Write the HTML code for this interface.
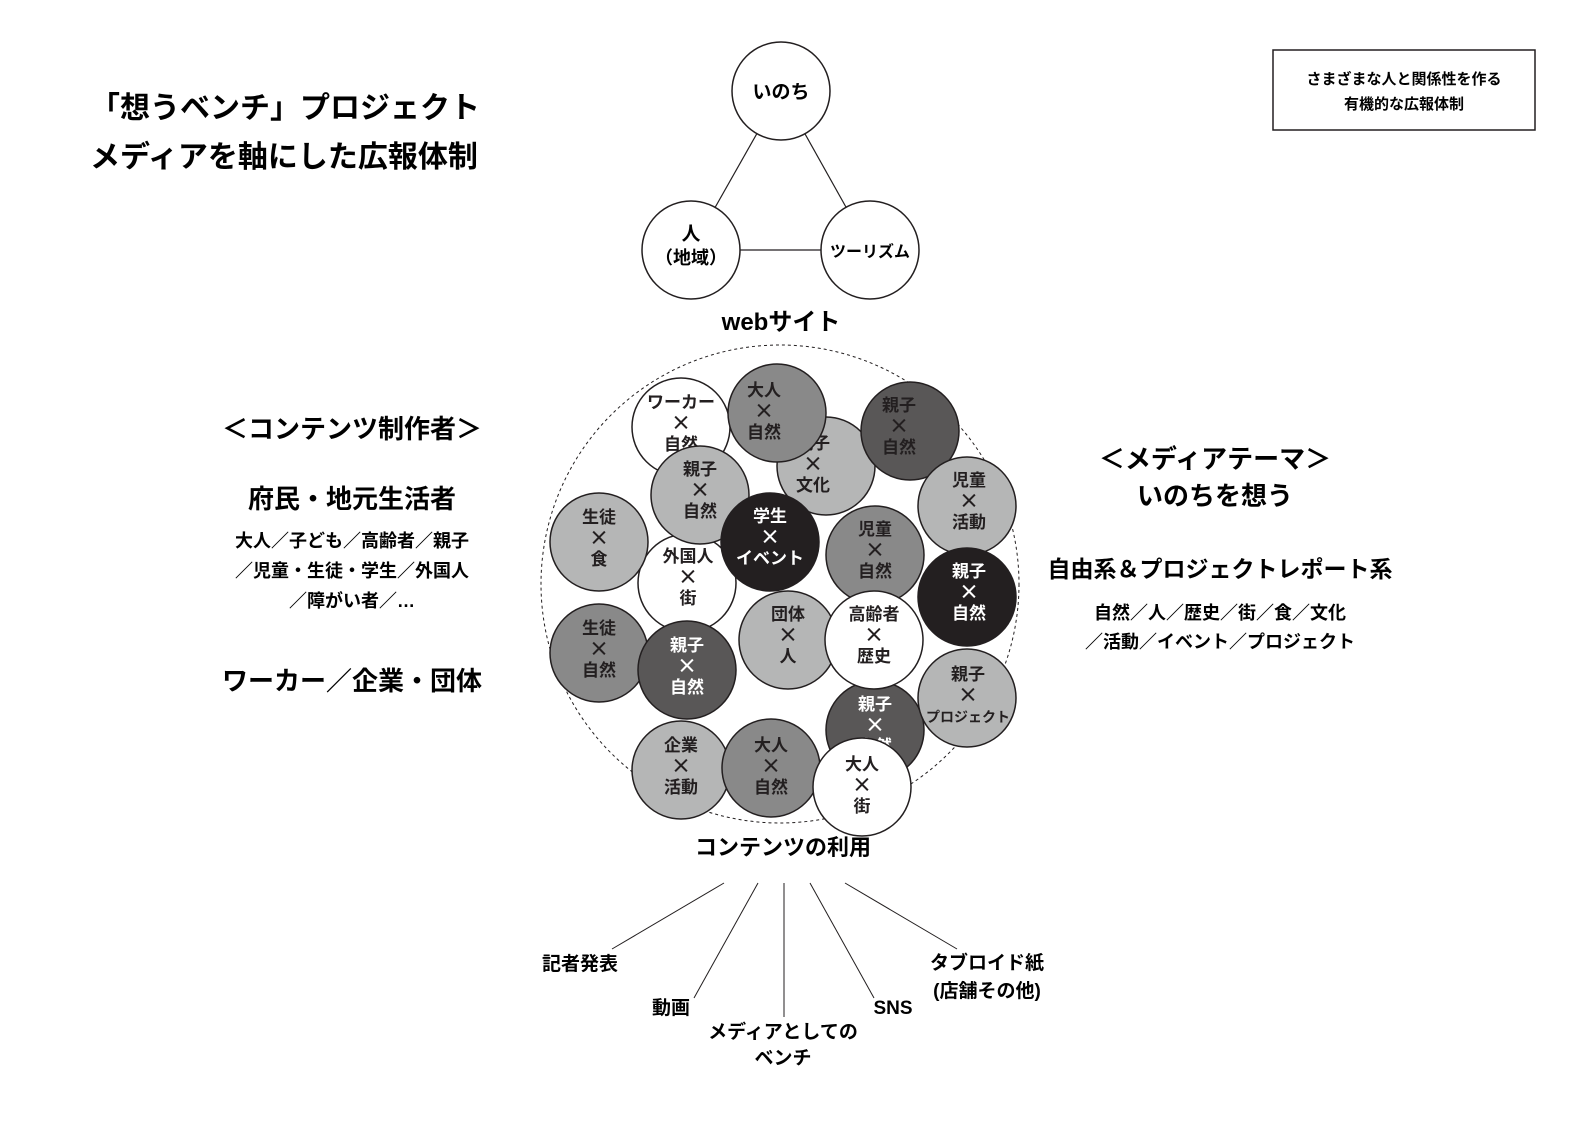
<!DOCTYPE html>
<html><head><meta charset="utf-8"><style>
html,body{margin:0;padding:0;background:#fff;}
svg{display:block;}
text{font-family:"Liberation Sans","Noto Sans CJK JP",sans-serif;font-weight:bold;text-anchor:middle;}
.x{font-family:"Noto Sans CJK JP",sans-serif;font-size:20px;}
</style></head><body>
<svg width="1592" height="1126" viewBox="0 0 1592 1126" xmlns="http://www.w3.org/2000/svg">
<rect width="1592" height="1126" fill="#fff"/>
<text x="90" y="118" font-size="30" style="text-anchor:start">「想うベンチ」プロジェクト</text>
<text x="90" y="167" font-size="30" style="text-anchor:start">メディアを軸にした広報体制</text>
<rect x="1273" y="50" width="262" height="80" fill="#fff" stroke="#231f20" stroke-width="1.5"/>
<text x="1404" y="84" font-size="15">さまざまな人と関係性を作る</text>
<text x="1404" y="109" font-size="15">有機的な広報体制</text>
<g stroke="#231f20" stroke-width="1.2">
<line x1="781" y1="91" x2="691" y2="250"/><line x1="781" y1="91" x2="870" y2="250"/><line x1="691" y1="250" x2="870" y2="250"/>
</g>
<g fill="#fff" stroke="#231f20" stroke-width="1.5">
<circle cx="781" cy="91" r="49"/><circle cx="691" cy="250" r="49"/><circle cx="870" cy="250" r="49"/>
</g>
<text x="781" y="98" font-size="19">いのち</text>
<text x="691" y="240" font-size="19">人</text>
<text x="691" y="264" font-size="18">（地域）</text>
<text x="870" y="257" font-size="16">ツーリズム</text>
<text x="781" y="330" font-size="24">webサイト</text>
<text x="352" y="438" font-size="26">＜コンテンツ制作者＞</text>
<text x="352" y="508" font-size="26">府民・地元生活者</text>
<text x="352" y="547" font-size="18">大人／子ども／高齢者／親子</text>
<text x="352" y="577" font-size="18">／児童・生徒・学生／外国人</text>
<text x="352" y="607" font-size="18">／障がい者／…</text>
<text x="352" y="690" font-size="26">ワーカー／企業・団体</text>
<text x="1215" y="468" font-size="26">＜メディアテーマ＞</text>
<text x="1215" y="505" font-size="26">いのちを想う</text>
<text x="1220" y="577" font-size="23">自由系＆プロジェクトレポート系</text>
<text x="1220" y="619" font-size="18">自然／人／歴史／街／食／文化</text>
<text x="1220" y="648" font-size="18">／活動／イベント／プロジェクト</text>
<circle cx="780" cy="584" r="239" fill="none" stroke="#231f20" stroke-width="1" stroke-dasharray="3,3"/>
<g stroke="#231f20" stroke-width="1.5" font-size="17">
<g><circle cx="681" cy="427" r="49" fill="#fff"/><text x="681" y="408" fill="#231f20" stroke="none">ワーカー</text><text class="x" x="681" y="430" fill="#231f20" stroke="none">×</text><text x="681" y="450" fill="#231f20" stroke="none">自然</text></g>
<g><circle cx="826" cy="466" r="49" fill="#b5b6b6"/><text x="813" y="449" fill="#231f20" stroke="none">親子</text><text class="x" x="813" y="471" fill="#231f20" stroke="none">×</text><text x="813" y="491" fill="#231f20" stroke="none">文化</text></g>
<g><circle cx="777" cy="413" r="49" fill="#898989"/><text x="764" y="396" fill="#231f20" stroke="none">大人</text><text class="x" x="764" y="418" fill="#231f20" stroke="none">×</text><text x="764" y="438" fill="#231f20" stroke="none">自然</text></g>
<g><circle cx="910" cy="431" r="49" fill="#595757"/><text x="899" y="411" fill="#231f20" stroke="none">親子</text><text class="x" x="899" y="433" fill="#231f20" stroke="none">×</text><text x="899" y="453" fill="#231f20" stroke="none">自然</text></g>
<g><circle cx="967" cy="506" r="49" fill="#b5b6b6"/><text x="969" y="486" fill="#231f20" stroke="none">児童</text><text class="x" x="969" y="508" fill="#231f20" stroke="none">×</text><text x="969" y="528" fill="#231f20" stroke="none">活動</text></g>
<g><circle cx="687" cy="583" r="49" fill="#fff"/><text x="688" y="562" fill="#231f20" stroke="none">外国人</text><text class="x" x="688" y="584" fill="#231f20" stroke="none">×</text><text x="688" y="604" fill="#231f20" stroke="none">街</text></g>
<g><circle cx="700" cy="495" r="49" fill="#b5b6b6"/><text x="700" y="475" fill="#231f20" stroke="none">親子</text><text class="x" x="700" y="497" fill="#231f20" stroke="none">×</text><text x="700" y="517" fill="#231f20" stroke="none">自然</text></g>
<g><circle cx="770" cy="542" r="49" fill="#231f20"/><text x="770" y="522" fill="#fff" stroke="none">学生</text><text class="x" x="770" y="544" fill="#fff" stroke="none">×</text><text x="770" y="564" fill="#fff" stroke="none">イベント</text></g>
<g><circle cx="599" cy="542" r="49" fill="#b5b6b6"/><text x="599" y="523" fill="#231f20" stroke="none">生徒</text><text class="x" x="599" y="545" fill="#231f20" stroke="none">×</text><text x="599" y="565" fill="#231f20" stroke="none">食</text></g>
<g><circle cx="875" cy="555" r="49" fill="#898989"/><text x="875" y="535" fill="#231f20" stroke="none">児童</text><text class="x" x="875" y="557" fill="#231f20" stroke="none">×</text><text x="875" y="577" fill="#231f20" stroke="none">自然</text></g>
<g><circle cx="788" cy="640" r="49" fill="#b5b6b6"/><text x="788" y="620" fill="#231f20" stroke="none">団体</text><text class="x" x="788" y="642" fill="#231f20" stroke="none">×</text><text x="788" y="662" fill="#231f20" stroke="none">人</text></g>
<g><circle cx="875" cy="730" r="49" fill="#595757"/><text x="875" y="710" fill="#fff" stroke="none">親子</text><text class="x" x="875" y="732" fill="#fff" stroke="none">×</text><text x="875" y="752" fill="#fff" stroke="none">自然</text></g>
<g><circle cx="874" cy="640" r="49" fill="#fff"/><text x="874" y="620" fill="#231f20" stroke="none">高齢者</text><text class="x" x="874" y="642" fill="#231f20" stroke="none">×</text><text x="874" y="662" fill="#231f20" stroke="none">歴史</text></g>
<g><circle cx="967" cy="597" r="49" fill="#231f20"/><text x="969" y="577" fill="#fff" stroke="none">親子</text><text class="x" x="969" y="599" fill="#fff" stroke="none">×</text><text x="969" y="619" fill="#fff" stroke="none">自然</text></g>
<g><circle cx="599" cy="653" r="49" fill="#898989"/><text x="599" y="634" fill="#231f20" stroke="none">生徒</text><text class="x" x="599" y="656" fill="#231f20" stroke="none">×</text><text x="599" y="676" fill="#231f20" stroke="none">自然</text></g>
<g><circle cx="687" cy="670" r="49" fill="#595757"/><text x="687" y="651" fill="#fff" stroke="none">親子</text><text class="x" x="687" y="673" fill="#fff" stroke="none">×</text><text x="687" y="693" fill="#fff" stroke="none">自然</text></g>
<g><circle cx="967" cy="698" r="49" fill="#b5b6b6"/><text x="968" y="680" fill="#231f20" stroke="none">親子</text><text class="x" x="968" y="702" fill="#231f20" stroke="none">×</text><text x="968" y="722" fill="#231f20" stroke="none" font-size="14">プロジェクト</text></g>
<g><circle cx="681" cy="770" r="49" fill="#b5b6b6"/><text x="681" y="751" fill="#231f20" stroke="none">企業</text><text class="x" x="681" y="773" fill="#231f20" stroke="none">×</text><text x="681" y="793" fill="#231f20" stroke="none">活動</text></g>
<g><circle cx="771" cy="768" r="49" fill="#898989"/><text x="771" y="751" fill="#231f20" stroke="none">大人</text><text class="x" x="771" y="773" fill="#231f20" stroke="none">×</text><text x="771" y="793" fill="#231f20" stroke="none">自然</text></g>
<g><circle cx="862" cy="787" r="49" fill="#fff"/><text x="862" y="770" fill="#231f20" stroke="none">大人</text><text class="x" x="862" y="792" fill="#231f20" stroke="none">×</text><text x="862" y="812" fill="#231f20" stroke="none">街</text></g>
</g>
<text x="783" y="855" font-size="22">コンテンツの利用</text>
<g stroke="#231f20" stroke-width="1">
<line x1="724" y1="883" x2="612" y2="949"/>
<line x1="758" y1="883" x2="694" y2="998"/>
<line x1="784" y1="883" x2="784" y2="1017"/>
<line x1="810" y1="883" x2="874" y2="998"/>
<line x1="845" y1="883" x2="957" y2="949"/>
</g>
<g font-size="19">
<text x="580" y="970">記者発表</text>
<text x="671" y="1014">動画</text>
<text x="783" y="1038">メディアとしての</text>
<text x="783" y="1064">ベンチ</text>
<text x="893" y="1014">SNS</text>
<text x="987" y="969">タブロイド紙</text>
<text x="987" y="997">(店舗その他)</text>
</g>
</svg>
</body></html>
